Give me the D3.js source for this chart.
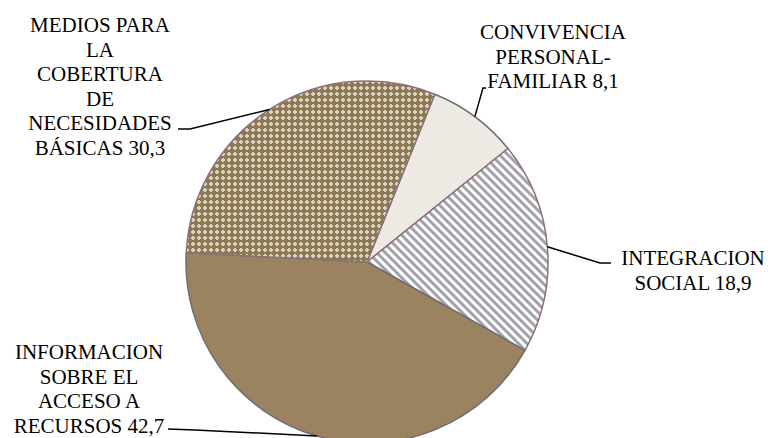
<!DOCTYPE html>
<html>
<head>
<meta charset="utf-8">
<script src="https://cdn.jsdelivr.net/npm/d3@7"></script>
<style>
  body { margin: 0; background: #fff; }
  svg { font-family: "Liberation Serif", "DejaVu Serif", serif; }
</style>
</head>
<body>
<svg id="canvas" width="768" height="438"></svg>
<script>
// slice data, clockwise starting from the slice after the top
let categories = ["CONVIVENCIA PERSONAL-FAMILIAR", "INTEGRACION SOCIAL", "INFORMACION SOBRE EL ACCESO A RECURSOS", "MEDIOS PARA LA COBERTURA DE NECESIDADES BÁSICAS"];
let values = [8.1, 18.9, 42.7, 30.3];
let valueLabels = ["8,1", "18,9", "42,7", "30,3"];
// how each label breaks into lines (last line gets the value)
let labelLines = [
    ["CONVIVENCIA", "PERSONAL-", "FAMILIAR"],
    ["INTEGRACION", "SOCIAL"],
    ["INFORMACION", "SOBRE EL", "ACCESO A", "RECURSOS"],
    ["MEDIOS PARA", "LA", "COBERTURA", "DE", "NECESIDADES", "BÁSICAS"]
];

const cx = 367, cy = 262, radius = 181;
const startAngle = 22 * Math.PI / 180;

let svg = d3.select('#canvas');
let defs = svg.append('defs');

// cross lattice for the brown slice
let dots = defs.append('pattern')
    .attr('id', 'dots')
    .attr('patternUnits', 'userSpaceOnUse')
    .attr('width', 6).attr('height', 6);
dots.append('rect').attr('width', 6).attr('height', 6).attr('fill', '#d9d1c0');
dots.append('rect').attr('x', 2).attr('y', 0).attr('width', 2).attr('height', 6).attr('fill', '#8c7953');
dots.append('rect').attr('x', 0).attr('y', 2).attr('width', 6).attr('height', 2).attr('fill', '#8c7953');
dots.append('rect').attr('x', 1).attr('y', 1).attr('width', 4).attr('height', 4).attr('fill', '#8c7953');

// diagonal stripes for the grey slice
let stripes = defs.append('pattern')
    .attr('id', 'stripes')
    .attr('patternUnits', 'userSpaceOnUse')
    .attr('width', 6).attr('height', 6)
    .attr('patternTransform', 'rotate(-45)');
stripes.append('rect').attr('width', 6).attr('height', 6).attr('fill', '#ffffff');
stripes.append('rect').attr('width', 3).attr('height', 6).attr('fill', '#a2a2aa');

let fills = ['#eeeae3', 'url(#stripes)', '#9b8362', 'url(#dots)'];
let strokes = ['#6d6d72', '#8f6f7c', '#6d6d72', '#8f6f7c'];

let pie = d3.pie()
    .sort(null)
    .startAngle(startAngle)
    .endAngle(startAngle + 2 * Math.PI)
    .value(d => d);

let arcs = pie(values);
let arc = d3.arc().innerRadius(0).outerRadius(radius);

let g = svg.append('g').attr('transform', `translate(${cx},${cy})`);

g.selectAll('path')
    .data(arcs)
    .join('path')
    .attr('d', arc)
    .attr('fill', (d, i) => fills[i])
    .attr('stroke', (d, i) => strokes[i])
    .attr('stroke-width', 1.5)
    .attr('stroke-linejoin', 'round');

// label block settings: centre x, first baseline, leader bend points
let labelX = [553, 693, 89, 100];
let labelY = [39, 265, 359, 32];
let lineStep = 24.6;
let leaderEnds = [
    [[486, 88], [483, 88]],
    [[611, 263], [600, 263]],
    [[168, 429], [195, 430]],
    [[178, 129], [190, 129]]
];

// leader lines from slice middles on the rim
svg.selectAll('polyline.leader')
    .data(arcs)
    .join('polyline')
    .attr('class', 'leader')
    .attr('fill', 'none')
    .attr('stroke', '#000')
    .attr('stroke-width', 1.5)
    .attr('points', (d, i) => {
        let mid = (d.startAngle + d.endAngle) / 2;
        let px = cx + radius * Math.sin(mid);
        let py = cy - radius * Math.cos(mid);
        let pts = leaderEnds[i].concat([[px, py]]);
        return pts.map(p => p.join(',')).join(' ');
    });

// one text per label line
labelLines.forEach((lines, i) => {
    svg.selectAll('text.lab' + i)
        .data(lines)
        .join('text')
        .attr('class', 'lab' + i)
        .attr('x', labelX[i])
        .attr('y', (d, j) => labelY[i] + j * lineStep)
        .attr('text-anchor', 'middle')
        .attr('font-size', 21)
        .style('font-family', '"Liberation Serif", "DejaVu Serif", serif')
        .attr('fill', '#000')
        .text((d, j) => j == lines.length - 1 ? d + ' ' + valueLabels[i] : d);
});
</script>
</body>
</html>
